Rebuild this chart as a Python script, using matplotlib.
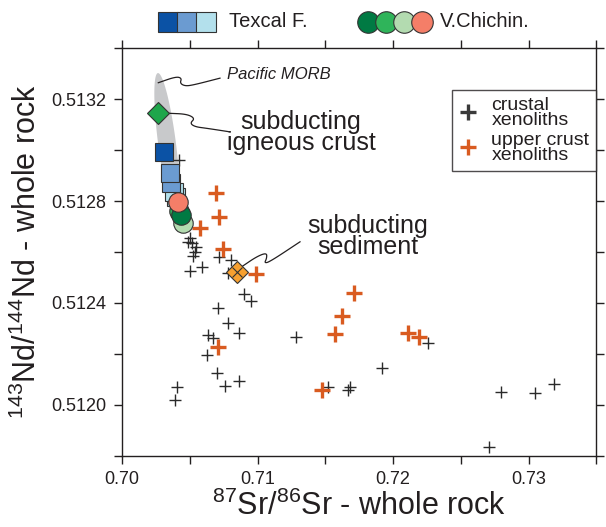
import numpy as np
import matplotlib
matplotlib.use('Agg')
import matplotlib.pyplot as plt
from matplotlib.lines import Line2D
from matplotlib.patches import Polygon
from matplotlib.ticker import MultipleLocator, FormatStrFormatter

plt.rcParams['font.family'] = ['Liberation Sans', 'DejaVu Sans']
plt.rcParams['mathtext.fontset'] = 'custom'
plt.rcParams['mathtext.rm'] = 'Liberation Sans'
plt.rcParams['mathtext.it'] = 'Liberation Sans:italic'

TXT = '#231f20'

# crustal xenoliths (black crosses)
crust_sr = [0.70502, 0.70489, 0.70514, 0.70546, 0.70539, 0.70522, 0.70502, 0.70588,
            0.70716, 0.70804, 0.70785, 0.70900, 0.70950, 0.70711, 0.70785, 0.70866,
            0.70637, 0.70669, 0.70630, 0.70699, 0.70762, 0.70866, 0.70408, 0.70389,
            0.71282, 0.72260, 0.71919, 0.71523, 0.71683, 0.71670, 0.72797, 0.73048,
            0.73188, 0.72711, 0.70423]
crust_nd = [0.512654, 0.512640, 0.512634, 0.512621, 0.512601, 0.512584, 0.512527, 0.512540,
            0.512579, 0.512569, 0.512516, 0.512435, 0.512409, 0.512381, 0.512320, 0.512281,
            0.512274, 0.512261, 0.512195, 0.512123, 0.512073, 0.512093, 0.512071, 0.512018,
            0.512265, 0.512241, 0.512143, 0.512071, 0.512071, 0.512058, 0.512051, 0.512047,
            0.512080, 0.511835, 0.512962]

# upper crust xenoliths (orange crosses)
upper_sr = [0.70576, 0.70718, 0.70694, 0.70748, 0.70989, 0.70711, 0.71478, 0.71712,
            0.71624, 0.71572, 0.72113, 0.72194]
upper_nd = [0.512693, 0.512739, 0.512833, 0.512611, 0.512512, 0.512228, 0.512058, 0.512440,
            0.512350, 0.512278, 0.512281, 0.512267]

# Texcal F. (squares), drawn back to front
texcal_sr = [0.70399, 0.70384, 0.70365, 0.70354, 0.70312]
texcal_nd = [0.512816, 0.512835, 0.512873, 0.512909, 0.512994]
texcal_col = ['#b3e0ec', '#b3e0ec', '#6b9bd1', '#6b9bd1', '#0b52a5']

# V.Chichinautzin (circles), drawn back to front
chich_sr = [0.70450, 0.70421, 0.70435, 0.70411]
chich_nd = [0.512714, 0.512761, 0.512745, 0.512798]
chich_col = ['#b3dbb0', '#2fb45a', '#007a43', '#f47e68']

# end members
igneous_sr, igneous_nd = 0.70263, 0.513145
sediment_sr, sediment_nd = 0.70852, 0.512523

# Pacific MORB field: centre, tip and half width
morb_c = (0.70332, 0.513028)
morb_tip = (0.70266, 0.513303)
morb_halfw = 0.00066

# leader lines
lead_morb = ([0.702679, 0.703985, 0.704406, 0.704280, 0.704649, 0.705262, 0.707232],
             [0.513265, 0.513289, 0.513283, 0.513263, 0.513252, 0.513256, 0.513283])
lead_ign = ([0.703417, 0.704775, 0.705387, 0.705018, 0.705387, 0.706251, 0.707845],
            [0.513145, 0.513142, 0.513125, 0.513106, 0.513092, 0.513086, 0.513073])
lead_sed = ([0.708834, 0.709941, 0.710679, 0.710679, 0.710502, 0.710923, 0.713137],
            [0.512542, 0.512582, 0.512597, 0.512575, 0.512556, 0.512562, 0.512640])


def smooth(xs, ys, n=4):
    p = np.column_stack([xs, ys])
    for _ in range(n):
        q = 0.75 * p[:-1] + 0.25 * p[1:]
        r = 0.25 * p[:-1] + 0.75 * p[1:]
        mid = np.empty((2 * len(q), 2))
        mid[0::2] = q
        mid[1::2] = r
        p = np.vstack([p[:1], mid, p[-1:]])
    return p[:, 0], p[:, 1]


fig = plt.figure(figsize=(6.06, 5.27), dpi=100)
ax = fig.add_axes([0.2013, 0.1355, 0.7827, 0.7727])

# MORB field
t = np.linspace(0, 2 * np.pi, 200)
ux, uy = morb_tip[0] - morb_c[0], morb_tip[1] - morb_c[1]
ex = morb_c[0] + ux * np.cos(t) + morb_halfw * np.sin(t)
ey = morb_c[1] + uy * np.cos(t)
ax.add_patch(Polygon(np.column_stack([ex, ey]), closed=True, fc='#c8c9cb', ec='none', zorder=1))

for lx, ly in (lead_morb, lead_ign, lead_sed):
    sx, sy = smooth(lx, ly)
    ax.plot(sx, sy, color=TXT, lw=0.9, zorder=2)

ax.plot(crust_sr, crust_nd, ls='none', marker='+', ms=8.5, mew=1.0, color='#2a2a2a', zorder=3)
ax.plot(upper_sr, upper_nd, ls='none', marker='+', ms=12, mew=2.4, color='#d95b20', zorder=3)

for x, y, c in zip(texcal_sr, texcal_nd, texcal_col):
    ax.plot(x, y, marker='s', ms=13.5, mfc=c, mec='#333333', mew=0.8, ls='none', zorder=4)
for x, y, c in zip(chich_sr, chich_nd, chich_col):
    ax.plot(x, y, marker='o', ms=14, mfc=c, mec='#333333', mew=0.8, ls='none', zorder=5)

ax.plot(igneous_sr, igneous_nd, marker='D', ms=10.7, mfc='#1ea64b', mec='#333333', mew=0.8, zorder=5)
ax.plot(sediment_sr, sediment_nd, marker='D', ms=10.7, mfc='#f7a030', mec='#333333', mew=0.8, zorder=5)
ax.plot(sediment_sr, sediment_nd, marker='x', ms=7.6, mec='#333333', mew=0.8, zorder=6)

ax.text(0.707749, 0.513299, 'Pacific MORB', fontsize=12, style='italic', color=TXT,
        ha='left', va='center')
ax.text(0.713210, 0.513068, 'subducting\nigneous crust', fontsize=18, color=TXT,
        ha='center', va='center', linespacing=0.85)
ax.text(0.718155, 0.512660, 'subducting\nsediment', fontsize=18, color=TXT,
        ha='center', va='center', linespacing=0.85)

# top legend
for xf, c in zip([0.097, 0.137, 0.177], ['#0b52a5', '#6b9bd1', '#b3e0ec']):
    ax.plot(xf, 1.065, marker='s', ms=13.7, mfc=c, mec='#333333', mew=0.8,
            transform=ax.transAxes, clip_on=False)
ax.text(0.2256, 1.065, 'Texcal F.', fontsize=14.5, color=TXT, ha='left', va='center',
        transform=ax.transAxes)
for xf, c in zip([0.519, 0.557, 0.595, 0.633], ['#007a43', '#2fb45a', '#b3dbb0', '#f47e68']):
    ax.plot(xf, 1.065, marker='o', ms=15.5, mfc=c, mec='#333333', mew=0.8,
            transform=ax.transAxes, clip_on=False)
ax.text(0.670, 1.065, 'V.Chichin.', fontsize=14.5, color=TXT, ha='left', va='center',
        transform=ax.transAxes)

handles = [Line2D([], [], ls='none', marker='+', ms=11, mew=2.4, color='#3a3a3a'),
           Line2D([], [], ls='none', marker='+', ms=11, mew=2.4, color='#d95b20')]
leg = ax.legend(handles, ['crustal\nxenoliths', 'upper crust\nxenoliths'],
                loc='upper right', bbox_to_anchor=(1.0, 0.898), borderaxespad=0,
                fancybox=False, edgecolor=TXT, fontsize=14, handlelength=1.0,
                handletextpad=0.7, labelspacing=0.15, borderpad=0.35)
leg.get_frame().set_linewidth(1.0)
for txt in leg.get_texts():
    txt.set_linespacing(0.85)
    txt.set_color(TXT)

ax.set_xlim(0.70, 0.735)
ax.set_ylim(0.5118, 0.5134)
ax.xaxis.set_major_locator(MultipleLocator(0.01))
ax.xaxis.set_minor_locator(MultipleLocator(0.005))
ax.yaxis.set_major_locator(MultipleLocator(0.0004))
ax.yaxis.set_minor_locator(MultipleLocator(0.0002))
ax.xaxis.set_major_formatter(FormatStrFormatter('%.2f'))
ax.yaxis.set_major_formatter(FormatStrFormatter('%.4f'))
ax.tick_params(which='both', direction='out', length=6, width=1.0, top=True, right=True,
               color=TXT, labelsize=13, labelcolor=TXT, pad=5)
for s in ax.spines.values():
    s.set_linewidth(1.0)
    s.set_color(TXT)

ax.set_xlabel(r'$^{87}$Sr/$^{86}$Sr - whole rock', fontsize=22, color=TXT, labelpad=2)
ax.set_ylabel(r'$^{143}$Nd/$^{144}$Nd - whole rock', fontsize=22, color=TXT, labelpad=6)

fig.savefig('out.png', dpi=100)
